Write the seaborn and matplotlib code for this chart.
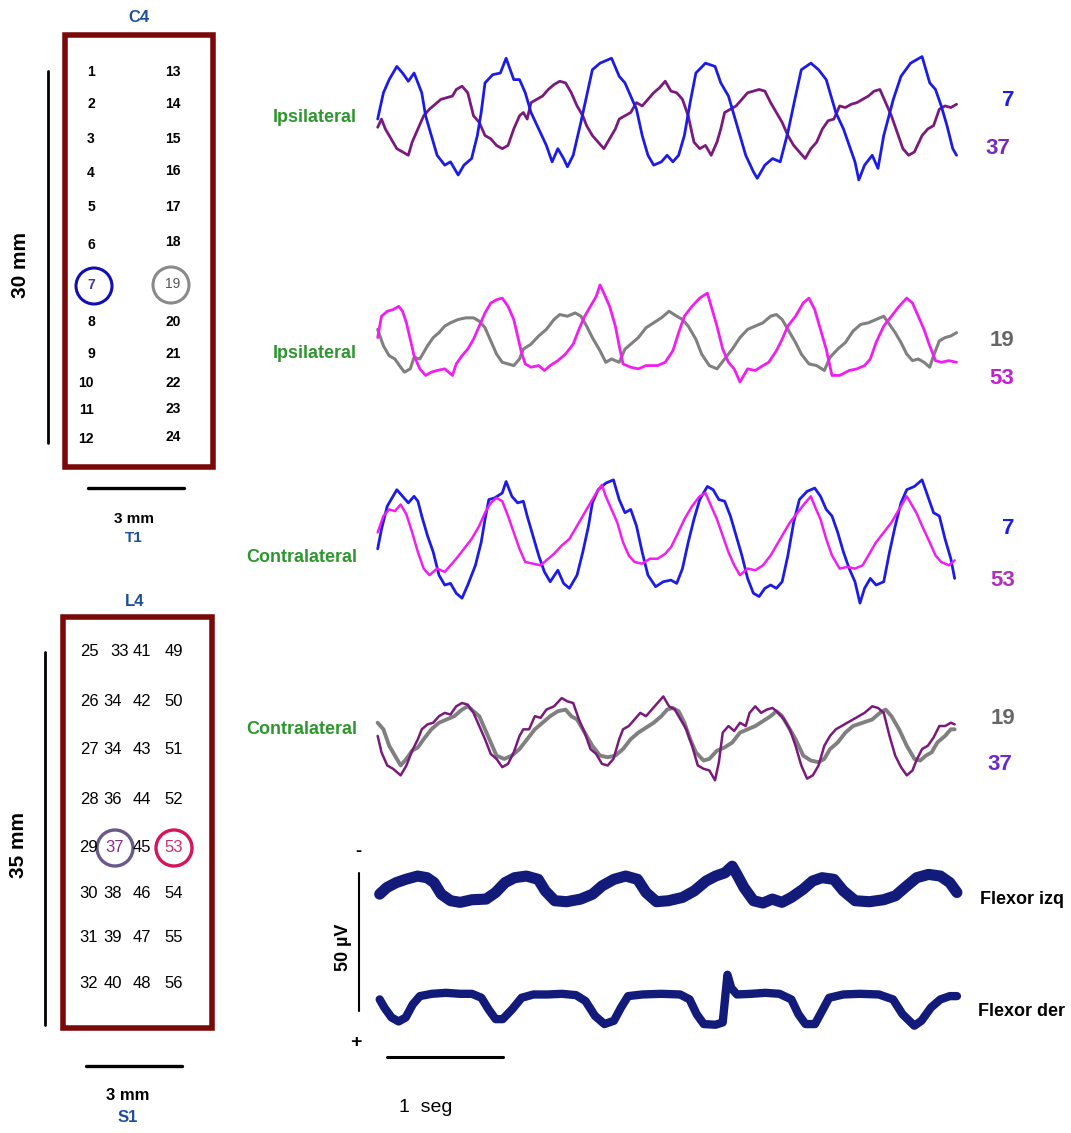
import pandas as pd
import seaborn as sns
import matplotlib.pyplot as plt
from matplotlib.patches import Rectangle, Circle

# traces as (sample, potential) pairs, arbitrary units.
# electrophysiology convention: negative up, so the y axis is inverted.
ipsi_ch7 = [(20, 210), (35, 130), (50, 90), (70, 50), (85, 70), (100, 95), (115, 70), (125, 100),
            (135, 130), (145, 200), (160, 260), (175, 320), (195, 350), (210, 340), (230, 380),
            (245, 350), (265, 330), (280, 260), (290, 190), (300, 100), (320, 75), (340, 70),
            (355, 25), (375, 90), (390, 90), (405, 130), (420, 190), (440, 240), (460, 290),
            (475, 340), (490, 300), (505, 330), (515, 355), (530, 320), (550, 220), (565, 140),
            (580, 60), (600, 40), (630, 25), (650, 80), (665, 100), (680, 140), (695, 180),
            (710, 260), (725, 320), (740, 350), (760, 340), (775, 320), (790, 340), (805, 320),
            (820, 260), (835, 160), (850, 70), (875, 40), (900, 50), (915, 100), (935, 140),
            (950, 200), (965, 260), (980, 320), (1000, 370), (1010, 390), (1030, 350), (1050, 330),
            (1070, 340), (1090, 250), (1110, 140), (1125, 60), (1150, 40), (1170, 60), (1190, 90),
            (1200, 130), (1215, 190), (1235, 240), (1250, 290), (1265, 340), (1275, 395),
            (1290, 350), (1310, 320), (1325, 360), (1340, 260), (1365, 150), (1385, 80),
            (1410, 40), (1440, 20), (1460, 100), (1475, 120), (1490, 170), (1505, 230),
            (1520, 300), (1530, 320)]
ipsi_ch37 = [(20, 235), (30, 210), (40, 240), (55, 270), (70, 300), (85, 310), (100, 320), (110, 280),
             (125, 240), (140, 200), (155, 180), (170, 165), (185, 150), (200, 145), (215, 140),
             (225, 120), (240, 110), (255, 130), (270, 200), (285, 220), (300, 260), (315, 270),
             (330, 290), (345, 300), (360, 290), (375, 240), (390, 200), (400, 190), (410, 210),
             (420, 160), (435, 150), (450, 140), (465, 120), (480, 105), (495, 95), (510, 100),
             (525, 130), (540, 170), (555, 200), (565, 230), (580, 260), (595, 280), (610, 300),
             (625, 270), (640, 240), (650, 210), (665, 200), (680, 190), (695, 160), (710, 170),
             (725, 150), (740, 130), (755, 115), (770, 95), (785, 125), (800, 130), (815, 150),
             (830, 200), (845, 280), (860, 300), (875, 290), (890, 320), (905, 280), (915, 240),
             (925, 190), (940, 180), (955, 170), (970, 150), (985, 130), (1000, 125), (1015, 120),
             (1030, 125), (1045, 160), (1060, 190), (1075, 220), (1090, 260), (1105, 290),
             (1120, 310), (1135, 330), (1150, 300), (1165, 280), (1180, 240), (1195, 215),
             (1210, 210), (1225, 170), (1240, 175), (1255, 165), (1270, 160), (1285, 150),
             (1300, 140), (1315, 125), (1330, 120), (1345, 160), (1360, 200), (1375, 250),
             (1390, 300), (1405, 320), (1420, 310), (1440, 260), (1455, 240), (1470, 230),
             (1485, 180), (1500, 170), (1515, 175), (1530, 165)]

ipsi_ch19 = [(20, 150), (35, 200), (50, 230), (65, 240), (80, 265), (90, 280), (105, 270), (115, 235),
             (130, 240), (140, 220), (150, 200), (165, 175), (180, 160), (195, 140), (210, 130),
             (230, 120), (250, 115), (270, 115), (285, 125), (300, 145), (315, 185), (330, 225),
             (345, 250), (360, 255), (375, 260), (390, 240), (400, 210), (420, 195), (440, 170),
             (460, 150), (480, 120), (495, 105), (515, 110), (535, 100), (550, 110), (565, 140),
             (580, 175), (600, 215), (615, 250), (630, 240), (650, 250), (665, 210), (680, 195),
             (700, 175), (720, 145), (740, 130), (760, 115), (780, 95), (800, 110), (815, 120),
             (830, 140), (850, 180), (865, 225), (885, 260), (905, 270), (925, 240), (945, 210),
             (965, 175), (985, 150), (1005, 140), (1025, 130), (1045, 110), (1060, 105),
             (1075, 120), (1090, 150), (1110, 190), (1125, 225), (1145, 255), (1165, 260),
             (1185, 275), (1200, 235), (1220, 210), (1240, 190), (1260, 155), (1280, 135),
             (1300, 130), (1320, 120), (1340, 110), (1355, 135), (1370, 160), (1385, 190),
             (1400, 225), (1415, 245), (1430, 240), (1445, 250), (1460, 265), (1470, 230),
             (1485, 185), (1500, 175), (1515, 170), (1530, 160)]
ipsi_ch53 = [(20, 175), (30, 110), (45, 95), (60, 90), (75, 80), (85, 95), (95, 130), (105, 180),
             (115, 230), (130, 270), (145, 290), (160, 280), (175, 275), (195, 270), (215, 290),
             (225, 255), (240, 230), (255, 210), (270, 180), (285, 140), (300, 100), (315, 70),
             (330, 60), (345, 55), (360, 80), (375, 120), (385, 170), (395, 220), (405, 255),
             (420, 265), (440, 260), (455, 275), (470, 260), (490, 245), (510, 225), (530, 195),
             (545, 150), (560, 110), (575, 80), (590, 50), (600, 15), (610, 40), (625, 80),
             (640, 140), (650, 200), (660, 255), (680, 265), (700, 270), (720, 260), (750, 260),
             (770, 250), (790, 215), (805, 160), (820, 110), (840, 80), (860, 55), (880, 40),
             (890, 80), (905, 140), (920, 210), (935, 250), (950, 270), (965, 310), (985, 270),
             (1005, 275), (1025, 260), (1040, 250), (1060, 215), (1075, 180), (1090, 140),
             (1110, 110), (1130, 70), (1145, 55), (1160, 90), (1175, 150), (1190, 210), (1205, 290),
             (1225, 290), (1250, 275), (1270, 270), (1290, 260), (1305, 240), (1320, 190),
             (1340, 140), (1360, 110), (1380, 80), (1400, 55), (1415, 70), (1430, 110), (1445, 150),
             (1460, 200), (1475, 245), (1490, 250), (1510, 245), (1530, 250)]

contra_ch7 = [(20, 240), (30, 180), (45, 110), (60, 80), (70, 60), (85, 80), (100, 100), (115, 80),
              (125, 95), (135, 140), (150, 200), (165, 250), (180, 320), (195, 350), (210, 345),
              (225, 375), (240, 390), (255, 350), (275, 290), (290, 220), (300, 150), (310, 90),
              (325, 85), (345, 70), (355, 35), (370, 80), (385, 100), (400, 95), (410, 140),
              (425, 200), (440, 260), (455, 310), (470, 340), (490, 305), (505, 345), (520, 360),
              (540, 320), (555, 250), (570, 170), (580, 100), (595, 60), (615, 40), (635, 30),
              (650, 90), (665, 130), (680, 120), (695, 170), (710, 250), (725, 320), (745, 355),
              (765, 340), (785, 335), (800, 345), (815, 300), (830, 220), (845, 150), (860, 90),
              (880, 50), (895, 60), (910, 90), (925, 95), (940, 140), (955, 200), (970, 260),
              (985, 330), (1000, 375), (1015, 385), (1030, 360), (1045, 350), (1060, 360),
              (1075, 340), (1090, 260), (1105, 160), (1120, 90), (1140, 65), (1160, 55), (1175, 80),
              (1190, 120), (1205, 140), (1220, 190), (1235, 250), (1250, 300), (1265, 340),
              (1278, 405), (1290, 360), (1305, 330), (1320, 350), (1340, 340), (1355, 250),
              (1370, 170), (1385, 100), (1400, 60), (1420, 50), (1440, 30), (1455, 80), (1470, 130),
              (1485, 140), (1500, 210), (1515, 270), (1525, 330)]
contra_ch53 = [(20, 190), (35, 140), (50, 120), (65, 125), (80, 105), (95, 135), (110, 190), (125, 250),
               (140, 300), (155, 320), (175, 300), (195, 310), (210, 290), (225, 270), (245, 240),
               (265, 210), (285, 170), (300, 130), (315, 100), (330, 85), (345, 95), (360, 140),
               (375, 190), (390, 240), (405, 280), (425, 285), (445, 290), (460, 275), (480, 255),
               (500, 230), (520, 210), (540, 170), (555, 140), (570, 110), (590, 70), (605, 45),
               (615, 80), (630, 120), (645, 160), (660, 220), (675, 260), (690, 280), (710, 285),
               (730, 270), (750, 270), (770, 255), (785, 235), (800, 200), (820, 150), (840, 110),
               (860, 80), (875, 70), (890, 110), (905, 150), (920, 200), (935, 250), (950, 290),
               (965, 320), (985, 300), (1005, 305), (1025, 290), (1045, 260), (1065, 220),
               (1080, 190), (1095, 160), (1115, 130), (1135, 100), (1150, 80), (1160, 110),
               (1175, 150), (1190, 210), (1205, 260), (1225, 300), (1245, 295), (1265, 300),
               (1285, 290), (1300, 260), (1320, 220), (1340, 190), (1360, 160), (1380, 120),
               (1400, 80), (1410, 100), (1425, 130), (1440, 170), (1460, 220), (1475, 260),
               (1490, 280), (1510, 290), (1525, 275)]

contra_ch19 = [(20, 130), (35, 150), (50, 200), (65, 230), (80, 260), (95, 240), (110, 215), (125, 205),
               (140, 180), (160, 150), (180, 130), (200, 120), (220, 110), (240, 90), (255, 80),
               (270, 95), (285, 110), (300, 150), (315, 190), (330, 230), (350, 240), (370, 230),
               (390, 210), (410, 180), (430, 150), (450, 130), (470, 110), (490, 95), (510, 90),
               (525, 110), (540, 120), (560, 160), (580, 200), (600, 230), (620, 235), (640, 230),
               (660, 210), (680, 180), (700, 160), (720, 145), (740, 130), (760, 110), (775, 90),
               (790, 85), (805, 95), (820, 130), (835, 180), (850, 220), (870, 245), (885, 240),
               (905, 215), (925, 205), (945, 190), (965, 160), (985, 150), (1005, 140), (1025, 125),
               (1045, 110), (1060, 95), (1075, 110), (1090, 140), (1110, 180), (1130, 230),
               (1150, 245), (1170, 250), (1185, 240), (1200, 210), (1220, 190), (1240, 160),
               (1260, 140), (1285, 130), (1310, 120), (1330, 100), (1345, 90), (1360, 110),
               (1380, 150), (1400, 200), (1420, 240), (1435, 245), (1450, 230), (1465, 220),
               (1480, 190), (1500, 170), (1515, 150), (1525, 150)]
contra_ch37 = [(20, 170), (30, 220), (45, 260), (60, 270), (80, 290), (95, 260), (110, 215), (125, 180),
               (135, 150), (150, 135), (165, 130), (180, 110), (195, 100), (210, 105), (225, 80),
               (240, 70), (255, 75), (270, 100), (285, 140), (300, 180), (315, 225), (330, 240),
               (345, 265), (360, 255), (375, 220), (390, 170), (400, 150), (415, 150), (430, 110),
               (445, 115), (460, 90), (480, 80), (500, 55), (515, 65), (530, 70), (545, 120),
               (560, 160), (575, 210), (590, 225), (605, 255), (620, 260), (635, 240), (650, 180),
               (660, 150), (675, 140), (690, 120), (705, 100), (720, 110), (735, 90), (750, 70),
               (765, 50), (780, 80), (795, 90), (810, 120), (825, 150), (840, 200), (855, 260),
               (870, 270), (885, 275), (900, 305), (910, 250), (920, 160), (935, 140), (950, 155),
               (965, 130), (980, 140), (990, 100), (1005, 80), (1020, 100), (1035, 90), (1050, 85),
               (1065, 100), (1080, 120), (1095, 150), (1110, 200), (1125, 260), (1140, 300),
               (1155, 290), (1170, 260), (1185, 200), (1200, 170), (1215, 150), (1230, 140),
               (1245, 130), (1260, 120), (1275, 110), (1290, 100), (1310, 80), (1325, 85),
               (1340, 100), (1355, 170), (1370, 230), (1385, 265), (1400, 290), (1415, 275),
               (1425, 245), (1440, 210), (1455, 200), (1470, 175), (1485, 140), (1500, 140),
               (1515, 130), (1525, 135)]

flexor_izq = [(105, 195), (120, 175), (140, 160), (160, 150), (185, 140), (205, 145), (220, 160),
              (235, 195), (255, 215), (275, 220), (300, 212), (330, 210), (350, 190), (370, 160),
              (390, 145), (415, 140), (440, 150), (455, 185), (475, 215), (500, 218), (530, 210),
              (555, 195), (575, 170), (600, 150), (625, 140), (650, 150), (668, 190), (690, 218),
              (715, 215), (745, 205), (770, 185), (795, 155), (815, 140), (835, 130), (850, 110),
              (860, 135), (875, 175), (895, 215), (915, 222), (935, 210), (955, 220), (975, 205),
              (1000, 180), (1020, 155), (1040, 145), (1065, 150), (1085, 185), (1110, 215),
              (1140, 218), (1170, 212), (1195, 200), (1215, 175), (1240, 145), (1265, 135),
              (1290, 140), (1310, 160), (1325, 190)]
flexor_der = [(105, 515), (115, 540), (130, 570), (145, 582), (160, 570), (175, 530), (190, 505),
              (215, 498), (245, 495), (275, 498), (300, 498), (320, 510), (335, 545), (350, 575),
              (365, 575), (385, 545), (405, 510), (430, 500), (460, 500), (490, 498), (520, 502),
              (540, 520), (560, 565), (580, 590), (600, 580), (615, 540), (630, 505), (660, 500),
              (700, 498), (740, 500), (760, 515), (775, 560), (790, 590), (815, 592), (830, 585),
              (840, 440), (848, 480), (860, 500), (890, 498), (920, 495), (950, 498), (975, 515),
              (990, 560), (1005, 590), (1025, 590), (1040, 550), (1055, 510), (1085, 500),
              (1120, 498), (1160, 500), (1190, 515), (1210, 560), (1235, 595), (1250, 580),
              (1270, 540), (1290, 515), (1310, 505), (1325, 505)]

top_grid_left = ["1", "2", "3", "4", "5", "6", "7", "8", "9", "10", "11", "12"]
top_grid_right = ["13", "14", "15", "16", "17", "18", "19", "20", "21", "22", "23", "24"]
bottom_grid = [["25", "33", "41", "49"], ["26", "34", "42", "50"], ["27", "34", "43", "51"],
               ["28", "36", "44", "52"], ["29", "37", "45", "53"], ["30", "38", "46", "54"],
               ["31", "39", "47", "55"], ["32", "40", "48", "56"]]

BLUE = "#1c1ce6"
PURPLE = "#7a1a7c"
MAGENTA = "#f01ef0"
GRAY = "#808080"
NAVY = "#121a7a"
GREEN = "#2e962e"
DARKRED = "#7a0a0a"
LABELBLUE = "#1f4f9c"

W, H = 1071, 1133
sns.set_style("white")
plt.rcParams["font.family"] = ["Liberation Sans", "DejaVu Sans"]
plt.rcParams["text.color"] = "black"
NARROW = ["Liberation Sans Narrow", "Liberation Sans", "DejaVu Sans"]

fig = plt.figure(figsize=(W / 100, H / 100), dpi=100)
bg = fig.add_axes([0, 0, 1, 1])
bg.set_xlim(0, W)
bg.set_ylim(H, 0)
bg.set_axis_off()


def trace_axes(x0, y0, w, h, xmax, ymax):
    ax = fig.add_axes([x0 / W, 1 - (y0 + h) / H, w / W, h / H])
    ax.patch.set_alpha(0)
    return ax, xmax, ymax


def draw(ax, pts, color, lw):
    df = pd.DataFrame(pts, columns=["sample", "potential"])
    sns.lineplot(data=df, x="sample", y="potential", color=color, lw=lw,
                 sort=False, estimator=None, ax=ax)


def finish(ax, xmax, ymax):
    ax.set_xlim(0, xmax)
    ax.set_ylim(ymax, 0)
    ax.set_axis_off()
    for ln in ax.lines:
        ln.set_clip_on(False)
        ln.set_solid_joinstyle("round")


# --- trace panels
panels = [
    (trace_axes(370, 50, 600, 150, 1565, 456), [(ipsi_ch37, PURPLE, 2.0), (ipsi_ch7, BLUE, 2.0)]),
    (trace_axes(370, 280, 600, 130, 1565, 395), [(ipsi_ch19, GRAY, 2.2), (ipsi_ch53, MAGENTA, 2.0)]),
    (trace_axes(370, 470, 600, 140, 1565, 426), [(contra_ch7, BLUE, 2.0), (contra_ch53, MAGENTA, 1.8)]),
    (trace_axes(370, 680, 600, 120, 1565, 365), [(contra_ch19, GRAY, 2.8), (contra_ch37, PURPLE, 1.8)]),
]
for (ax, xmax, ymax), traces in panels:
    for pts, color, lw in traces:
        draw(ax, pts, color, lw)
    finish(ax, xmax, ymax)

ax, xmax, ymax = trace_axes(330, 830, 740, 300, 1564, 912)
draw(ax, flexor_izq, NAVY, 8.0)
draw(ax, flexor_der, NAVY, 6.0)
finish(ax, xmax, ymax)

# --- labels of trace panels
for y, txt in [(117, "Ipsilateral"), (354, "Ipsilateral"), (558, "Contralateral"), (729, "Contralateral")]:
    bg.text(357, y, txt, color=GREEN, fontsize=13, fontweight="bold", family=NARROW,
            ha="right", va="center")

right_labels = [(1008, 100, "7", BLUE), (998, 148, "37", "#7a2ab8"),
                (1002, 340, "19", "#666666"), (1002, 379, "53", "#c020d0"),
                (1008, 528, "7", BLUE), (1003, 580, "53", "#b030b8"),
                (1003, 718, "19", "#666666"), (1000, 764, "37", "#6a2ad0")]
for x, y, txt, c in right_labels:
    bg.text(x, y, txt, color=c, fontsize=16, fontweight="bold", family=NARROW,
            ha="center", va="center")

bg.text(1022, 899, "Flexor izq", fontsize=13, fontweight="bold", family=NARROW, ha="center", va="center")
bg.text(1022, 1011, "Flexor der", fontsize=13, fontweight="bold", family=NARROW, ha="center", va="center")

# scale bars for the traces
bg.plot([359, 359], [873, 1011], color="black", lw=1.5)
bg.text(358, 852, "-", fontsize=13, fontweight="bold", ha="center", va="center")
bg.text(356, 1042, "+", fontsize=14, fontweight="bold", ha="center", va="center")
bg.text(344, 947, "50 µV", fontsize=13, fontweight="bold", rotation=90, ha="center", va="center")
bg.plot([387, 503], [1057, 1057], color="black", lw=2.2)
bg.text(426, 1107, "1  seg", fontsize=14, family=NARROW, ha="center", va="center")

# --- top electrode array
bg.add_patch(Rectangle((65, 35), 148, 432, fill=False, ec=DARKRED, lw=4))
bg.text(139, 17, "C4", color=LABELBLUE, fontsize=12, fontweight="bold", ha="center", va="center")
bg.plot([48, 48], [71, 443], color="black", lw=2)
bg.text(21, 265, "30 mm", fontsize=15, fontweight="bold", rotation=90, ha="center", va="center")
bg.plot([88, 184], [488, 488], color="black", lw=2.4)
bg.text(134, 519, "3 mm", fontsize=11, fontweight="bold", ha="center", va="center")
bg.text(134, 538, "T1", color=LABELBLUE, fontsize=11, fontweight="bold", ha="center", va="center")

left_y = [72, 104, 139, 173, 207, 245, 285, 322, 354, 383, 410, 439]
right_y = [72, 104, 139, 171, 207, 242, 284, 322, 354, 383, 409, 437]
for lab, y in zip(top_grid_left, left_y):
    x = 86 if len(lab) > 1 else 91
    c = "#3a3aa0" if lab == "7" else "black"
    bg.text(x, y, lab, fontsize=10, fontweight="bold", color=c, ha="center", va="center")
for lab, y in zip(top_grid_right, right_y):
    c = "#555555" if lab == "19" else "black"
    w = "normal" if lab == "19" else "bold"
    bg.text(173, y, lab, fontsize=10, fontweight=w, color=c, ha="center", va="center")
bg.add_patch(Circle((94, 286), 18, fill=False, ec="#1010b0", lw=2.2))
bg.add_patch(Circle((171, 285), 18, fill=False, ec="#8a8a8a", lw=2.2))

# --- bottom electrode array
bg.add_patch(Rectangle((63, 617), 149, 411, fill=False, ec=DARKRED, lw=4))
bg.text(135, 601, "L4", color=LABELBLUE, fontsize=12, fontweight="bold", ha="center", va="center")
bg.plot([45, 45], [652, 1025], color="black", lw=2)
bg.text(19, 845, "35 mm", fontsize=15, fontweight="bold", rotation=90, ha="center", va="center")
bg.plot([86, 182], [1066, 1066], color="black", lw=2.4)
bg.text(128, 1095, "3 mm", fontsize=12, fontweight="bold", ha="center", va="center")
bg.text(128, 1118, "S1", color=LABELBLUE, fontsize=12, fontweight="bold", ha="center", va="center")

row_y = [652, 702, 750, 800, 848, 894, 938, 983]
col_x = [89, 113, 142, 174]
for row, y in zip(bottom_grid, row_y):
    for lab, x in zip(row, col_x):
        if lab == "33":
            x = 120
        c = "black"
        if lab == "37":
            c, x = "#8a2a8a", 115
        if lab == "53":
            c = "#c8306c"
        bg.text(x, y, lab, fontsize=12, family=NARROW, color=c, ha="center", va="center")
bg.add_patch(Circle((115, 848), 18, fill=False, ec="#6a5a8c", lw=2.4))
bg.add_patch(Circle((174, 848), 18, fill=False, ec="#d4145c", lw=2.4))

fig.savefig("out.png", dpi=100)
